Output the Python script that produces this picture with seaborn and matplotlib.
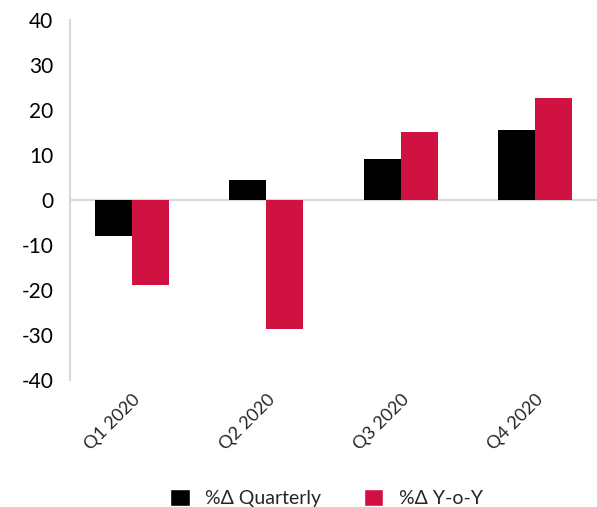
import pandas as pd
import seaborn as sns
import matplotlib
matplotlib.use('Agg')
import matplotlib.pyplot as plt
from matplotlib.patches import Patch

# Data
quarters = ["Q1 2020", "Q2 2020", "Q3 2020", "Q4 2020"]
quarterly = [-8.1, 4.4, 9.1, 15.6]
yoy = [-18.8, -28.6, 15.1, 22.7]
series_names = ["%\u0394 Quarterly", "%\u0394 Y-o-Y"]
colors = ["#000000", "#D01242"]

df = pd.DataFrame({
    "quarter": quarters * 2,
    "value": quarterly + yoy,
    "series": [series_names[0]] * 4 + [series_names[1]] * 4,
})

sns.set_style("white")
plt.rcParams['font.family'] = ['Lato', 'DejaVu Sans']
plt.rcParams['axes.unicode_minus'] = False

fig = plt.figure(figsize=(5.97, 5.07), dpi=100)
# right edge runs slightly past the figure, like the cropped original
ax = fig.add_axes([0.1173, 0.2505, 0.891, 0.71])

sns.barplot(data=df, x="quarter", y="value", hue="series", palette=colors,
            width=0.55, saturation=1, linewidth=0, edgecolor="none",
            ax=ax, legend=False)

ax.axhline(0, color="#d9d9d9", lw=1.5, zorder=0.5)
ax.set_ylim(-40, 40)
ax.set_yticks(range(-40, 41, 10))
ax.set_xlim(-0.463, 3.5)
ax.set_xlabel("")
ax.set_ylabel("")

for s in ["top", "right", "bottom"]:
    ax.spines[s].set_visible(False)
ax.spines["left"].set_color("#d9d9d9")
ax.spines["left"].set_linewidth(1.5)

ax.tick_params(axis="y", labelsize=15, length=0, pad=12, labelcolor="#000000")
ax.tick_params(axis="x", labelsize=13, length=0, pad=8)
for lbl in ax.get_xticklabels():
    lbl.set_rotation(45)
    lbl.set_ha("right")
    lbl.set_rotation_mode("anchor")

handles = [Patch(facecolor=c, label=n) for c, n in zip(colors, series_names)]
fig.legend(handles=handles, loc="center", bbox_to_anchor=(0.547, 0.018),
           ncol=2, frameon=False, fontsize=14, handlelength=1.0, handleheight=1.0,
           columnspacing=2.2, handletextpad=0.8)

fig.savefig("out.png", dpi=100)
